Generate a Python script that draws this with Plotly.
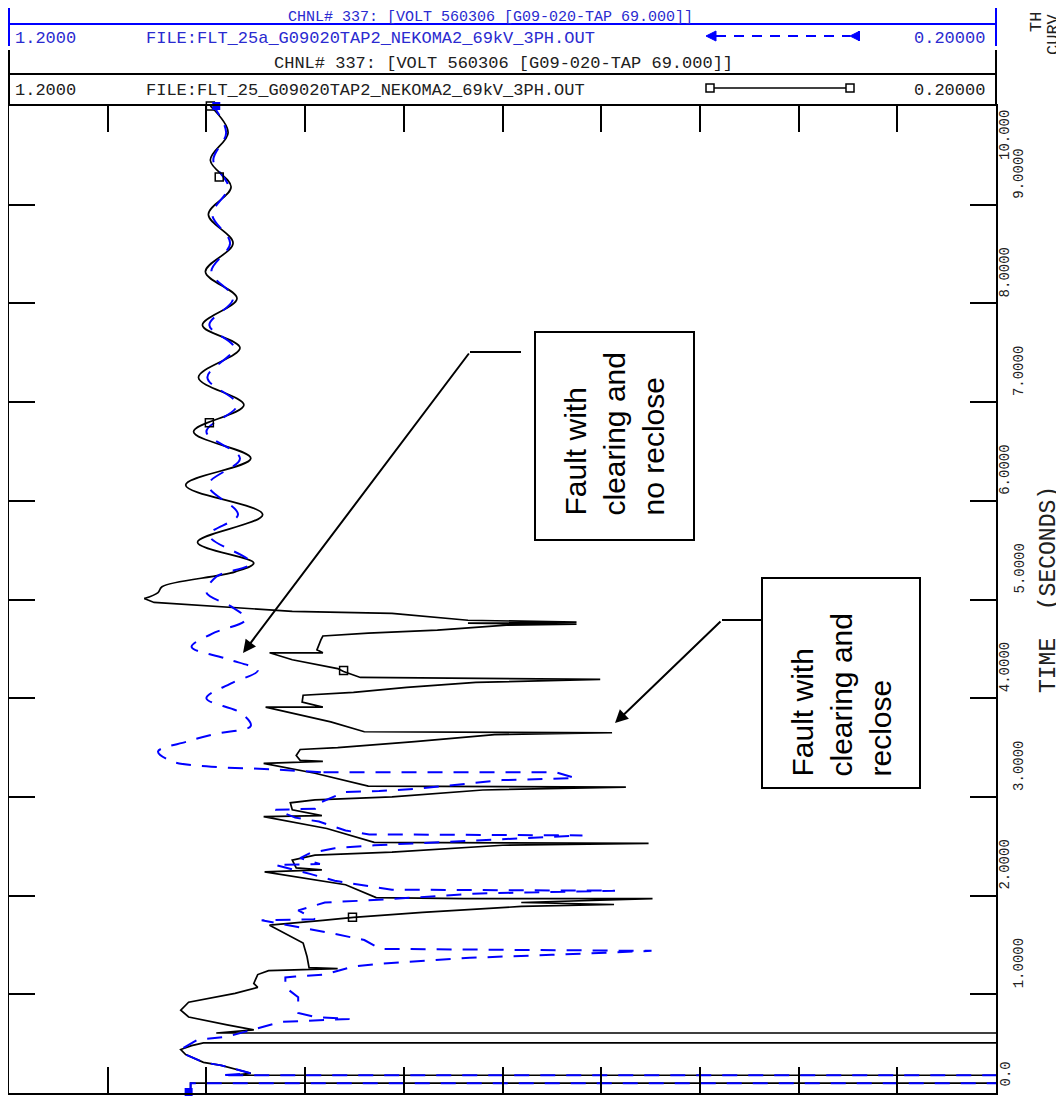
import plotly.graph_objects as go

# ---------------- data ----------------
# Black solid curve: fault with clearing and reclose (FLT_25)
black_t = [0.00, 0.10, 0.10, 0.18, 0.18, 0.20, 0.28, 0.31, 0.39, 0.44, 0.48, 0.507, 0.507, 0.608, 0.608,
           0.64, 0.69, 0.77, 0.84, 0.92, 1.01, 1.07, 1.11, 1.20, 1.24, 1.26, 1.27, 1.38, 1.52, 1.62,
           1.70, 1.75, 1.78, 1.83, 1.89, 1.91, 1.93, 1.97, 1.97, 1.98, 2.11, 2.24, 2.26, 2.28, 2.36,
           2.41, 2.44, 2.51, 2.53, 2.54, 2.68, 2.80, 2.81, 2.87, 2.94, 2.97, 3.00, 3.07, 3.10, 3.11,
           3.24, 3.34, 3.36, 3.37, 3.42, 3.48, 3.50, 3.56, 3.63, 3.65, 3.66, 3.76, 3.91, 3.91, 3.96,
           4.03, 4.06, 4.11, 4.16, 4.19, 4.21, 4.27, 4.30, 4.39, 4.46, 4.46, 4.49, 4.59, 4.63, 4.66,
           4.69, 4.74, 4.75, 4.76, 4.77, 4.79, 4.82, 4.86, 4.87, 4.88, 4.97, 5.01]
black_v = [1.016, 1.016, 0.05, 0.05, 0.975, 0.955, 0.985, 1.003, 1.021, 1.026, 1.015, 1.003, 0.05, 0.05, 0.990,
           0.952, 0.979, 1.018, 1.026, 1.018, 0.971, 0.948, 0.952, 0.948, 0.937, 0.867, 0.896, 0.898, 0.902, 0.921,
           0.936, 0.882, 0.851, 0.781, 0.681, 0.587, 0.681, 0.548, 0.739, 0.828, 0.859, 0.941, 0.883, 0.909, 0.913,
           0.890, 0.812, 0.700, 0.552, 0.830, 0.878, 0.942, 0.883, 0.913, 0.915, 0.890, 0.812, 0.720, 0.575, 0.836,
           0.890, 0.942, 0.882, 0.905, 0.909, 0.905, 0.867, 0.789, 0.708, 0.589, 0.840, 0.874, 0.940, 0.882, 0.903,
           0.902, 0.851, 0.797, 0.727, 0.601, 0.844, 0.861, 0.867, 0.913, 0.936, 0.882, 0.888, 0.884, 0.882, 0.836,
           0.766, 0.696, 0.625, 0.735, 0.625, 0.735, 0.770, 0.812, 0.863, 0.913, 1.053, 1.063]
black_osc_t = [5.01, 5.07, 5.13, 5.28, 5.37, 5.58, 5.86, 6.16, 6.43, 6.70, 6.97, 7.25, 7.55, 7.78, 8.05,
               8.32, 8.61, 8.90, 9.18, 9.45, 9.73, 10.0]
black_osc_v = [1.063, 1.049, 1.045, 0.971, 0.952, 1.009, 0.943, 1.021, 0.955, 1.013, 0.962, 1.008, 0.966, 1.004, 0.969,
               1.001, 0.973, 0.998, 0.975, 0.996, 0.978, 0.996]

# Blue dashed curve: fault with clearing and no reclose (FLT_25a)
blue_t = [0.00, 0.10, 0.10, 0.18, 0.18, 0.20, 0.28, 0.31, 0.39, 0.44, 0.54, 0.57, 0.72, 0.75, 0.77,
          0.81, 0.97, 1.07, 1.17, 1.18, 1.20, 1.28, 1.31, 1.33, 1.35, 1.37, 1.40, 1.44, 1.46, 1.55,
          1.62, 1.68, 1.75, 1.76, 1.85, 1.93, 1.96, 2.02, 2.05, 2.06, 2.15, 2.22, 2.31, 2.32, 2.38,
          2.43, 2.48, 2.51, 2.61, 2.62, 2.66, 2.75, 2.79, 2.87, 2.88, 2.92, 3.05, 3.06, 3.08, 3.17,
          3.19, 3.25, 3.25]
blue_v = [1.016, 1.016, 0.05, 0.05, 0.985, 0.955, 0.985, 1.003, 1.021, 1.026, 1.009, 0.979, 0.925, 0.855, 0.890,
          0.907, 0.907, 0.920, 0.920, 0.910, 0.880, 0.852, 0.824, 0.795, 0.763, 0.733, 0.650, 0.549, 0.824, 0.840,
          0.874, 0.905, 0.944, 0.890, 0.907, 0.880, 0.820, 0.730, 0.586, 0.812, 0.870, 0.895, 0.930, 0.885, 0.905,
          0.895, 0.870, 0.830, 0.619, 0.835, 0.859, 0.886, 0.910, 0.930, 0.890, 0.890, 0.860, 0.825, 0.790, 0.700,
          0.626, 0.646, 0.884]
blue_osc_t = [3.25, 3.28, 3.31, 3.36, 3.46, 3.56, 3.64, 3.72, 3.85, 4.00, 4.15, 4.28, 4.40, 4.52, 4.65,
              4.80, 4.93, 5.07, 5.23, 5.37, 5.65, 5.86, 6.16, 6.43, 6.70, 6.97, 7.25, 7.55, 7.78, 8.05,
              8.32, 8.61, 8.90, 9.18, 9.45, 9.73, 10.0]
blue_osc_v = [0.884, 0.935, 1.000, 1.035, 1.049, 1.020, 0.990, 0.955, 0.965, 1.000, 0.975, 0.948, 0.980, 1.015, 0.995,
              0.960, 0.975, 1.000, 0.990, 0.955, 0.997, 0.968, 0.998, 0.966, 1.000, 0.969, 0.999, 0.972, 0.997, 0.973,
              0.995, 0.976, 0.994, 0.978, 0.993, 0.980, 0.993]

# plot symbols placed along the curves
black_mark_t = [10.0, 9.28, 6.79, 4.28, 1.78]
black_mark_v = [0.996, 0.987, 0.997, 0.861, 0.852]
blue_mark_t = [0.01, 10.0]
blue_mark_v = [1.018, 0.990]

volt_ticks = [1.2, 1.1, 1.0, 0.9, 0.8, 0.7, 0.6, 0.5, 0.4, 0.3, 0.2]
time_ticks = [0, 1, 2, 3, 4, 5, 6, 7, 8, 9, 10]
time_tick_labels = ["0.0", "1.0000", "2.0000", "3.0000", "4.0000", "5.0000",
                    "6.0000", "7.0000", "8.0000", "9.0000", "10.000"]
time_axis_title = "TIME  (SECONDS)"
channel_title = "CHNL# 337: [VOLT 560306 [G09-020-TAP 69.000]]"
file_blue = "FILE:FLT_25a_G09020TAP2_NEKOMA2_69kV_3PH.OUT"
file_black = "FILE:FLT_25_G09020TAP2_NEKOMA2_69kV_3PH.OUT"
scale_max_label = "1.2000"
scale_min_label = "0.20000"
note_no_reclose = "Fault with<br>clearing and<br>no reclose"
note_reclose = "Fault with<br>clearing and<br>reclose"

# ---------------- layout helpers ----------------
# The page body has an 8px margin, so the figure is drawn 8px smaller and
# every screen position below is given in window pixels.
OFF = 8
W, H = 1064 - OFF, 1096 - OFF
L, R, T, B = 9, 996, 106, 1093          # plot frame, window pixels


def px(X):
    return (X - L) / (R - L)


def py(Y):
    return (B - Y) / (B - T)


BLUE = "#0000ff"
BLUE_TXT = "#2a2ad0"
BLACK_TXT = "#202020"
MONO = "Liberation Mono, DejaVu Sans Mono, monospace"
SANS = "Liberation Sans, Arial, sans-serif"

fig = go.Figure()

fig.add_trace(go.Scatter(x=black_v, y=black_t, mode="lines",
                         line=dict(color="black", width=1.7), hoverinfo="skip"))
fig.add_trace(go.Scatter(x=black_osc_v, y=black_osc_t, mode="lines",
                         line=dict(color="black", width=1.7, shape="spline", smoothing=1.0),
                         hoverinfo="skip"))
fig.add_trace(go.Scatter(x=blue_v, y=blue_t, mode="lines",
                         line=dict(color=BLUE, width=2, dash="15px,11px"), hoverinfo="skip"))
fig.add_trace(go.Scatter(x=blue_osc_v, y=blue_osc_t, mode="lines",
                         line=dict(color=BLUE, width=2, dash="15px,11px", shape="spline", smoothing=1.0),
                         hoverinfo="skip"))
fig.add_trace(go.Scatter(x=black_mark_v, y=black_mark_t, mode="markers", cliponaxis=False,
                         marker=dict(symbol="square-open", size=8, color="black", line=dict(width=1.5)),
                         hoverinfo="skip"))
fig.add_trace(go.Scatter(x=blue_mark_v, y=blue_mark_t, mode="markers", cliponaxis=False,
                         marker=dict(symbol="square", size=8, color=BLUE), hoverinfo="skip"))

shapes = []


def hline(X0, X1, Y, color, width=2, dash="solid"):
    shapes.append(dict(type="line", xref="paper", yref="paper", x0=px(X0), x1=px(X1), y0=py(Y), y1=py(Y),
                       line=dict(color=color, width=width, dash=dash)))


def vline(X, Y0, Y1, color, width=2):
    shapes.append(dict(type="line", xref="paper", yref="paper", x0=px(X), x1=px(X), y0=py(Y0), y1=py(Y1),
                       line=dict(color=color, width=width)))


# legend header boxes
vline(L, 0, 46, BLUE)
vline(R, 0, 46, BLUE)
hline(L, R, 24, BLUE)
vline(L, 50, 106, "black")
vline(R, 50, 106, "black")
hline(L, R, 74, "black")

# blue legend sample: arrow - - - - arrow
hline(716, 850, 36, BLUE, 2, "10px,8px")
shapes.append(dict(type="path", xref="paper", yref="paper",
                   path=f"M {px(706)} {py(36)} L {px(716)} {py(31)} L {px(716)} {py(41)} Z",
                   fillcolor=BLUE, line=dict(color=BLUE, width=1)))
shapes.append(dict(type="path", xref="paper", yref="paper",
                   path=f"M {px(850)} {py(36)} L {px(858)} {py(32)} L {px(858)} {py(40)} Z",
                   fillcolor=BLUE, line=dict(color=BLUE, width=1)))
vline(859, 31, 41, BLUE, 2)

# black legend sample: square ---- square
hline(714, 846, 88, "black", 1.5)
for cx in (710, 850):
    shapes.append(dict(type="rect", xref="paper", yref="paper",
                       x0=px(cx - 4), x1=px(cx + 4), y0=py(84), y1=py(92),
                       line=dict(color="black", width=1.5), fillcolor="white"))

# callout boxes and leaders
shapes.append(dict(type="rect", xref="paper", yref="paper", x0=px(535), x1=px(694), y0=py(332), y1=py(540),
                   line=dict(color="black", width=2)))
hline(470, 521, 352, "black", 2)
shapes.append(dict(type="rect", xref="paper", yref="paper", x0=px(762), x1=px(920), y0=py(578), y1=py(788),
                   line=dict(color="black", width=2)))
hline(722, 762, 620, "black", 2)

annotations = []


def text(X, Y, s, size, color, xanchor="center", yanchor="middle", angle=0, font=MONO, align="center"):
    annotations.append(dict(x=px(X), y=py(Y), xref="paper", yref="paper", text=s, showarrow=False,
                            xanchor=xanchor, yanchor=yanchor, textangle=angle, align=align,
                            font=dict(family=font, size=size, color=color), borderpad=0))


# header texts
text(490, 17, channel_title, 15, BLUE_TXT)
text(14, 38, scale_max_label, 17, BLUE_TXT, xanchor="left")
text(145, 38, file_blue, 17, BLUE_TXT, xanchor="left")
text(986, 38, scale_min_label, 17, BLUE_TXT, xanchor="right")
text(503, 64, channel_title, 17, BLACK_TXT)
text(14, 90, scale_max_label, 17, BLACK_TXT, xanchor="left")
text(145, 90, file_black, 17, BLACK_TXT, xanchor="left")
text(986, 90, scale_min_label, 17, BLACK_TXT, xanchor="right")

# time tick labels (rotated, staggered)
for tv, lab in zip(time_ticks, time_tick_labels):
    xc = 1005 if tv % 2 == 0 else 1019
    last = tv == time_ticks[-1]
    annotations.append(dict(x=px(xc), y=tv, xref="paper", yref="y", text=lab, showarrow=False,
                            textangle=-90, xanchor="center",
                            yanchor="top" if last else "bottom", yshift=-2 if last else 4,
                            font=dict(family=MONO, size=14, color=BLACK_TXT)))

text(1049, 590, time_axis_title, 23, BLACK_TXT, angle=-90)
text(1036, 33, "TH", 17, BLACK_TXT, yanchor="bottom", angle=-90)
text(1053, 56, "CURV", 17, BLACK_TXT, yanchor="bottom", angle=-90)

# callout texts
text(614, 517, note_no_reclose, 30, "black", yanchor="bottom", angle=-90, font=SANS, align="left")
text(841, 778, note_reclose, 30, "black", yanchor="bottom", angle=-90, font=SANS, align="left")

# arrows
annotations.append(dict(x=px(243), y=py(653), xref="paper", yref="paper", ax=470 - 243, ay=352 - 653,
                        text="", showarrow=True, arrowhead=2, arrowsize=1.3, arrowwidth=2,
                        arrowcolor="black", standoff=0))
annotations.append(dict(x=px(615), y=py(723), xref="paper", yref="paper", ax=722 - 615, ay=620 - 723,
                        text="", showarrow=True, arrowhead=2, arrowsize=1.3, arrowwidth=2,
                        arrowcolor="black", standoff=0))

axis_common = dict(showline=True, linecolor="black", linewidth=2, mirror="ticks", ticks="inside",
                   ticklen=26, tickwidth=2, tickcolor="black", showticklabels=False,
                   showgrid=False, zeroline=False, fixedrange=True)

fig.update_layout(
    width=W, height=H,
    margin=dict(l=L - OFF, r=W - (R - OFF), t=T - OFF, b=H - (B - OFF), pad=0, autoexpand=False),
    paper_bgcolor="white", plot_bgcolor="white",
    showlegend=False,
    xaxis=dict(range=[1.2, 0.2], tickvals=volt_ticks, **axis_common),
    yaxis=dict(range=[0, 10], tickvals=time_ticks, **axis_common),
    shapes=shapes,
    annotations=annotations,
)

fig.write_html("out.html")
